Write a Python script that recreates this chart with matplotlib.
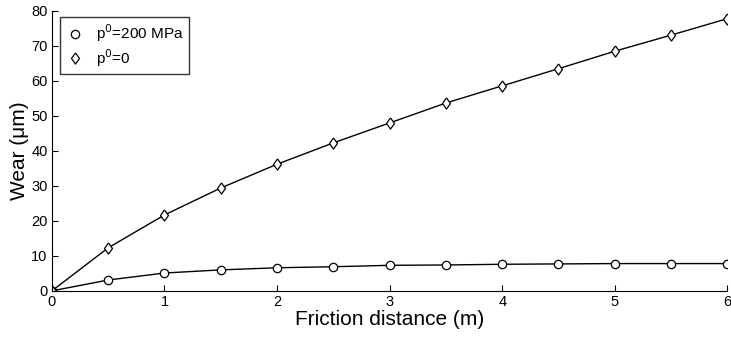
import numpy as np
import matplotlib.pyplot as plt

plt.rcParams['font.family'] = ['Liberation Sans', 'DejaVu Sans']

# friction distance (m)
distance = [0, 0.5, 1, 1.5, 2, 2.5, 3, 3.5, 4, 4.5, 5, 5.5, 6]
# wear (um) for the two contact pressures
wear_200 = [0, 3.1, 5.1, 6.0, 6.6, 6.9, 7.3, 7.4, 7.6, 7.7, 7.8, 7.8, 7.8]
wear_0 = [0, 12.3, 21.7, 29.4, 36.2, 42.3, 48.0, 53.7, 58.6, 63.5, 68.5, 73.1, 77.8]

# slightly narrow diamond marker
diamond = [(0, 1), (0.72, 0), (0, -1), (-0.72, 0), (0, 1)]

fig = plt.figure(figsize=(7.31, 3.43), dpi=100)
ax = fig.add_axes([0.071, 0.152, 0.924, 0.816])

ax.plot(distance, wear_200, color='black', lw=1.0, marker='o', ms=6,
        mfc='white', mec='black', mew=0.9, label='p$^0$=200 MPa')
ax.plot(distance, wear_0, color='black', lw=1.0, marker=diamond, ms=8,
        mfc='white', mec='black', mew=0.9, label='p$^0$=0')

ax.set_xlim(0, 6)
ax.set_ylim(0, 80)
ax.set_xticks(range(7))
ax.set_yticks(range(0, 81, 10))
ax.tick_params(direction='in', length=4, labelsize=10.5, pad=3)
ax.spines['top'].set_visible(False)
ax.spines['right'].set_visible(False)

ax.set_xlabel('Friction distance (m)', fontsize=15, labelpad=1)
ax.set_ylabel('Wear (\u03bcm)', fontsize=15, labelpad=2)

leg = ax.legend(loc='upper left', bbox_to_anchor=(0.012, 0.979), fontsize=11,
                frameon=True, fancybox=False, edgecolor='black',
                handlelength=1.2, borderpad=0.35, labelspacing=0.2,
                borderaxespad=0)
leg.get_frame().set_linewidth(1.0)
for h in leg.get_lines():
    h.set_linestyle('none')

fig.savefig('out.png', dpi=100)
